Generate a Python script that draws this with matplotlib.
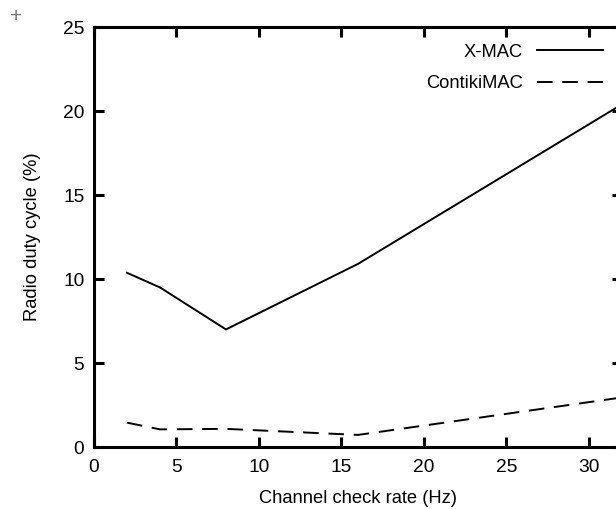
import matplotlib
matplotlib.use('Agg')
import matplotlib.pyplot as plt

plt.rcParams['font.family'] = ['Liberation Sans', 'DejaVu Sans']

# channel check rate (Hz) and radio duty cycle (%)
rates = [2, 4, 8, 16, 32]
xmac = [10.37, 9.5, 7.0, 10.9, 20.4]
contikimac = [1.45, 1.05, 1.08, 0.72, 2.95]

x_ticks = [0, 5, 10, 15, 20, 25, 30]
y_ticks = [0, 5, 10, 15, 20, 25]

fig = plt.figure(figsize=(6.16, 5.09), dpi=100)
ax = fig.add_axes([0.1526, 0.1218, 0.857, 0.825])

ax.plot(rates, xmac, color='black', lw=1.4, label='X-MAC')
ax.plot(rates, contikimac, color='black', lw=1.4, dashes=(8, 5), label='ContikiMAC')

ax.set_xlim(0, 32)
ax.set_ylim(0, 25)
ax.set_xticks(x_ticks)
ax.set_yticks(y_ticks)

for s in ax.spines.values():
    s.set_linewidth(2.2)
ax.tick_params(direction='in', length=7, width=2.2, labelsize=13.8, pad=7,
               top=True, right=True)
ax.tick_params(axis='x', pad=8.5)

ax.set_xlabel('Channel check rate (Hz)', fontsize=13.2, labelpad=10)
ax.set_ylabel('Radio duty cycle (%)', fontsize=13.2, labelpad=16)

ax.legend(loc='upper right', frameon=False, markerfirst=False, fontsize=13.2,
          handlelength=3.6, handletextpad=0.75, labelspacing=0.8,
          borderaxespad=0.5, bbox_to_anchor=(0.995, 1.0))

fig.text(0.026, 0.968, '+', color='#777777', fontsize=15, ha='center',
         va='center', fontweight='light')

fig.savefig('out.png', dpi=100)
